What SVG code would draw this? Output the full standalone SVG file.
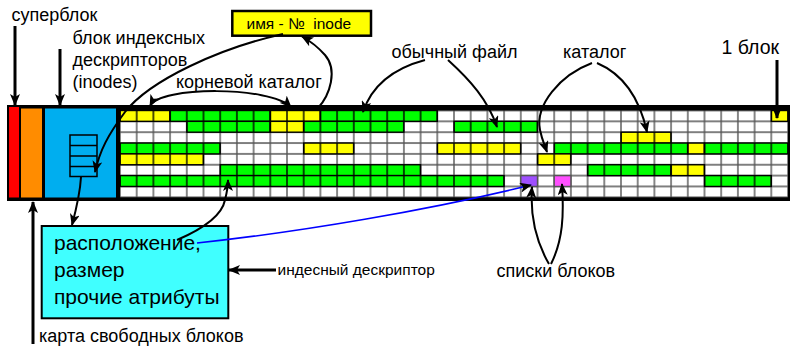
<svg xmlns="http://www.w3.org/2000/svg" width="790" height="348" viewBox="0 0 790 348">
<style>
text{font-family:"Liberation Sans",Arial,sans-serif;fill:#000}
.lbl{font-size:18px}
.big{font-size:21px}
.sm{font-size:15.5px}
.c{fill:none;stroke:#000;stroke-width:2;marker-end:url(#ah)}
.t{fill:none;stroke:#000;stroke-width:3;marker-end:url(#ah)}
.g{fill:url(#pg);stroke:#000;stroke-width:1.4}
.y{fill:url(#py);stroke:#000;stroke-width:1.4}
</style>
<defs>
<marker id="ah" viewBox="0 0 12 10" markerWidth="12" markerHeight="10" refX="11" refY="5" orient="auto-start-reverse" markerUnits="userSpaceOnUse">
<path d="M0,0 L12,5 L0,10 L3,5 z" fill="#000"/>
</marker>
<pattern id="gl" patternUnits="userSpaceOnUse" x="120" y="110.5" width="16.7" height="10.85">
<rect width="16.7" height="10.85" fill="#fff"/>
<path d="M0,0 V10.85 M16.7,0 V10.85 M0,0 H16.7 M0,10.85 H16.7" stroke="#555" stroke-width="1.4"/>
</pattern>
<pattern id="pg" patternUnits="userSpaceOnUse" x="120" y="0" width="16.7" height="348">
<rect width="16.7" height="348" fill="#00ff00"/>
<path d="M0,0 V348 M16.7,0 V348" stroke="#000" stroke-width="1.4"/>
</pattern>
<pattern id="py" patternUnits="userSpaceOnUse" x="120" y="0" width="16.7" height="348">
<rect width="16.7" height="348" fill="#ffff00"/>
<path d="M0,0 V348 M16.7,0 V348" stroke="#000" stroke-width="1.4"/>
</pattern>
</defs>

<g id="disk">
<rect x="7" y="105" width="790" height="96" fill="#000"/>
<rect x="9" y="107" width="10" height="90.5" fill="#ff0000"/>
<rect x="21" y="108.5" width="21" height="89" fill="#ff8c00"/>
<rect x="45" y="108.5" width="71" height="89" fill="#00aeef"/>
<g fill="none" stroke="#000" stroke-width="1.5">
<rect x="70" y="135" width="27" height="41.5"/>
<path d="M70,145.5 H97 M70,156 H97 M70,166.5 H97"/>
</g>
<rect x="120" y="110.5" width="668" height="86.8" fill="url(#gl)"/>
</g>

<g id="blocks">
<rect class="y" x="120" y="110.5" width="50.1" height="10.85"/>
<rect class="g" x="170.1" y="110.5" width="100.2" height="10.85"/>
<rect class="y" x="270.3" y="110.5" width="50.1" height="10.85"/>
<rect class="g" x="320.4" y="110.5" width="116.9" height="10.85"/>
<rect class="y" x="771.3" y="110.5" width="16.7" height="10.85"/>

<rect class="g" x="186.8" y="121.35" width="83.5" height="10.85"/>
<rect class="y" x="270.3" y="121.35" width="33.4" height="10.85"/>
<rect class="g" x="303.7" y="121.35" width="100.2" height="10.85"/>
<rect class="g" x="454" y="121.35" width="83.5" height="10.85"/>

<rect class="y" x="621" y="132.2" width="50.1" height="10.85"/>

<rect class="g" x="120" y="143.05" width="100.2" height="10.85"/>
<rect class="y" x="303.7" y="143.05" width="50.1" height="10.85"/>
<rect class="y" x="437.3" y="143.05" width="83.5" height="10.85"/>
<rect class="g" x="554.2" y="143.05" width="133.6" height="10.85"/>
<rect class="y" x="687.8" y="143.05" width="16.7" height="10.85"/>
<rect class="g" x="704.5" y="143.05" width="83.5" height="10.85"/>

<rect class="y" x="120" y="153.9" width="83.5" height="10.85"/>
<rect class="y" x="537.5" y="153.9" width="33.4" height="10.85"/>

<rect class="g" x="220.2" y="164.75" width="200.4" height="10.85"/>
<rect class="g" x="587.6" y="164.75" width="83.5" height="10.85"/>
<rect class="y" x="671.1" y="164.75" width="33.4" height="10.85"/>

<rect class="g" x="120" y="175.6" width="384.1" height="10.85"/>
<rect x="520.8" y="175.6" width="16.7" height="10.85" fill="#9f4fff" stroke="#555" stroke-width="1.4"/>
<rect x="554.2" y="175.6" width="16.7" height="10.85" fill="#ff4fff" stroke="#555" stroke-width="1.4"/>
<rect class="g" x="704.5" y="175.6" width="66.8" height="10.85"/>
</g>

<g id="inode-name">
<rect x="232.3" y="11" width="138.7" height="24.7" fill="#ffff00" stroke="#000" stroke-width="2.5"/>
<text class="sm" x="246.5" y="28.5" xml:space="preserve">имя - №  inode</text>
</g>

<g id="inode">
<rect x="41.7" y="226" width="186.6" height="92.3" fill="#40ffff" stroke="#000" stroke-width="2"/>
<text class="big" x="54" y="250">расположение,</text>
<text class="big" x="54" y="277">размер</text>
<text class="big" x="54" y="303.5">прочие атрибуты</text>
</g>

<g id="labels">
<text class="lbl" x="11.5" y="21">суперблок</text>
<text class="lbl" x="72.5" y="43.5">блок индексных</text>
<text class="lbl" x="72.5" y="65.5">дескрипторов</text>
<text class="lbl" x="72.5" y="87.5">(inodes)</text>
<text class="lbl" x="176" y="87.5">корневой каталог</text>
<text class="lbl" x="391.5" y="58">обычный файл</text>
<text class="lbl" x="563" y="58">каталог</text>
<text x="721.5" y="54" font-size="19.5">1 блок</text>
<text class="sm" x="277.5" y="274.5">индесный дескриптор</text>
<text class="lbl" x="496.5" y="277">списки блоков</text>
<text class="lbl" x="39" y="341.5">карта свободных блоков</text>
</g>

<g id="connectors">
<path class="t" d="M15,26 V105"/>
<path class="t" d="M60,49 V105"/>
<path class="t" d="M777,60 V118"/>
<path class="t" d="M33,344 V202"/>
<path class="t" d="M276,270 H229"/>
<path class="c" d="M283,34 C220,48 150,80 125,112 C108,135 100,150 95,172"/>
<path class="c" d="M150,106 C160,86 270,86 291,107" marker-start="url(#ah)"/>
<path class="c" d="M318,108 C330,95 338,70 325,55 C318,47 310,41 302,36.5"/>
<path class="c" d="M425,60 C395,68 372,85 363,112"/>
<path class="c" d="M448,60 C470,80 488,100 497,127"/>
<path class="c" d="M592,63 C560,75 535,105 540,130 C542,140 545,146 547,152"/>
<path class="c" d="M597,63 C625,75 640,100 647,132"/>
<path class="c" d="M81,177 C80,195 76,210 72,225"/>
<path class="c" d="M177,240 C205,228 222,215 225,200 C227,192 228,186 228,180"/>
<path d="M197,243 C300,232 430,210 531,185" fill="none" stroke="#0000ff" stroke-width="1.6" marker-end="url(#ah)"/>
<path class="c" d="M549,264 C535,240 530,215 532,187"/>
<path class="c" d="M551,264 C563,240 564,215 562,184"/>
</g>
</svg>
